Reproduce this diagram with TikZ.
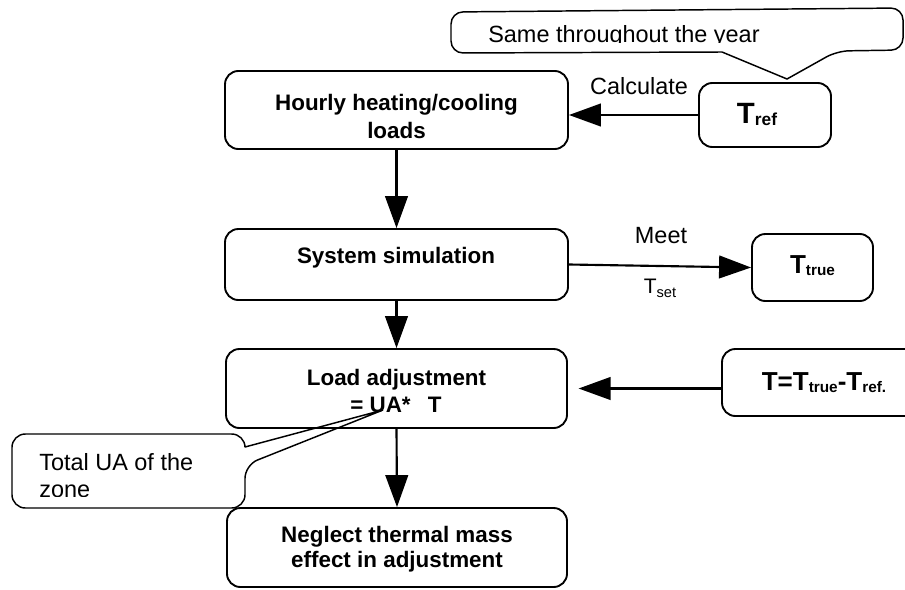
\documentclass[tikz,border=0pt]{standalone}
\usepackage{fontspec}
\setmainfont{Liberation Sans}
\usetikzlibrary{arrows.meta}
\newcommand\rgfont{\fontsize{17.6}{21}\selectfont}
\newcommand\bdfont{\fontsize{16.8}{20}\selectfont\bfseries}
\newcommand\bigTfont{\fontsize{19.5}{22}\selectfont\bfseries}
\newcommand\biggerTfont{\fontsize{22}{24}\selectfont\bfseries}
\newcommand\subTx[1]{\raisebox{-2pt}{\fontsize{11.5}{13}\selectfont\bfseries #1}}
\newcommand\subTy[1]{\raisebox{-2pt}{\fontsize{13}{15}\selectfont\bfseries #1}}
\newcommand\subRg[1]{\raisebox{-3pt}{\fontsize{11}{13}\selectfont #1}}
\begin{document}
\begin{tikzpicture}[x=0.75pt,y=-0.75pt,
  box/.style={draw,line width=1.4pt,rounded corners=10pt,inner sep=0pt},
  arr/.style={draw,line width=1.6pt,-{Triangle[length=24pt,width=17pt]}},
  callout/.style={draw,line width=1.1pt},
  txt/.style={inner sep=0pt,anchor=base}]
\useasboundingbox (0,0) rectangle (905,589);
\clip (0,0) rectangle (905,589);
% boxes
\node[box,minimum width=257.25pt,minimum height=58.5pt] (hourly) at (396.5,110) {};
\node[box,minimum width=257.25pt,minimum height=53.25pt] (sys) at (396.5,264.5) {};
\node[box,minimum width=255.75pt,minimum height=59.25pt] (adj) at (396.5,388.5) {};
\node[box,minimum width=255pt,minimum height=59.25pt] (negl) at (397,547.5) {};
\node[box,minimum width=99pt,minimum height=48pt] (tref) at (765,115) {};
\node[box,minimum width=90.75pt,minimum height=50.25pt] (ttrue) at (812.5,267.5) {};
\node[box,minimum width=152.25pt,minimum height=50.25pt] (dt) at (823.5,382.5) {};
% box texts
\node[txt] (hourlyA) at (396.5,110) {\bdfont Hourly heating/cooling};
\node[txt] (hourlyB) at (396.5,138) {\bdfont loads};
\node[txt] (sysA) at (396,263) {\bdfont System simulation};
\node[txt] (adjA) at (396.5,385) {\bdfont Load adjustment};
\node[txt] (adjB) at (396,412) {\bdfont = UA*\hspace{13pt}T};
\node[txt] (neglA) at (397,542) {\bdfont Neglect thermal mass};
\node[txt] (neglB) at (397,567) {\bdfont effect in adjustment};
\node[txt] (trefT) at (757,123) {\biggerTfont T\subTy{ref}};
\node[txt] (ttrueT) at (812.5,273) {\bigTfont T\subTx{true}};
\node[txt] (dtT) at (824,390) {\bigTfont T=T\subTx{true}-T\subTx{ref.}};
% connectors
\draw[arr] (hourly.south) -- (sys.north);
\draw[arr] (sys.south) -- (adj.north);
\draw[arr] (adj.south) -- (negl.north);
\draw[arr] (tref.west) -- (tref.west -| hourly.east);
\draw[arr] (sys.east) -- (ttrue.west);
\draw[arr] (dt.west |- adj.east) -- ([xshift=8pt]adj.east);
% labels
\node[txt] (calc) at (639,94) {\rgfont Calculate};
\node[txt] (meet) at (661,243) {\rgfont Meet};
\node[txt] (tset) at (660,293) {\fontsize{15.75}{18}\selectfont T\subRg{set}};
% callouts
\draw[callout] (722,52) [rounded corners=9pt] -- (451,53) -- (451,12) -- (903,8) -- (903,50) -- (837,51) [sharp corners] -- (787,79) -- cycle;
\begin{scope}
\clip (451,0) rectangle (905,42.5);
\node[txt,anchor=base west] (same) at (488,42) {\rgfont Same throughout the year};
\end{scope}
\draw[callout] (245,447) [rounded corners=10pt] -- (245,434) -- (12,434) -- (12,508) -- (245,508) -- (245,465) [sharp corners] -- (383,410) -- cycle;
\node[txt,anchor=base west] (totalA) at (39,470) {\rgfont Total UA of the};
\begin{scope}
\clip (0,0) rectangle (905,496);
\node[txt,anchor=base west] (totalB) at (39,497) {\rgfont zone};
\end{scope}
\end{tikzpicture}
\end{document}
